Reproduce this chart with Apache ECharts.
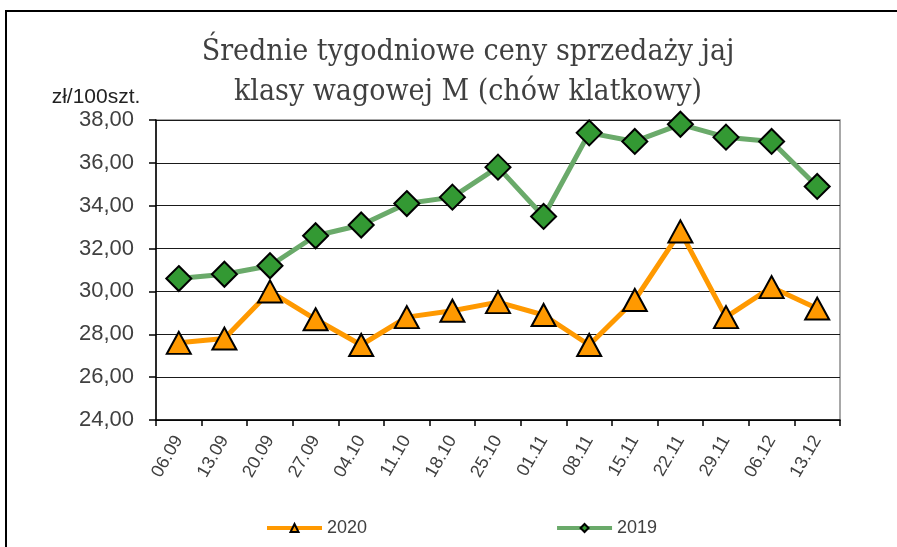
<!DOCTYPE html>
<html>
<head>
<meta charset="utf-8">
<script src="https://cdn.jsdelivr.net/npm/echarts@6/dist/echarts.min.js"></script>
<style>
html,body{margin:0;padding:0;background:#fff;}
#main{width:897px;height:547px;}
</style>
</head>
<body>
<div id="main"></div>
<script>
const categories = ['06.09','13.09','20.09','27.09','04.10','11.10','18.10','25.10','01.11','08.11','15.11','22.11','29.11','06.12','13.12'];
const values2020 = [27.6, 27.8, 30.0, 28.7, 27.5, 28.8, 29.1, 29.5, 28.9, 27.5, 29.6, 32.8, 28.8, 30.2, 29.2];
const values2019 = [30.6, 30.8, 31.2, 32.6, 33.1, 34.1, 34.4, 35.8, 33.5, 37.4, 37.0, 37.8, 37.2, 37.0, 34.9];
const seriesNames = ['2020', '2019'];
const titleLines = ['Średnie tygodniowe ceny sprzedaży jaj', 'klasy wagowej M (chów klatkowy)'];
const unitLabel = 'zł/100szt.';

const chart = echarts.init(document.getElementById('main'), null, {renderer: 'canvas'});
const option = {
  animation: false,
  backgroundColor: '#fff',
  graphic: [
    {type: 'rect', shape: {x: 6, y: 11, width: 1000, height: 1000}, style: {fill: 'none', stroke: '#000', lineWidth: 2}, silent: true, z: -10},
    {type: 'text', style: {text: titleLines.join('\n'), x: 468, y: 32, align: 'center', verticalAlign: 'top', textAlign: 'center', textVerticalAlign: 'top', font: '30px "DejaVu Serif Condensed", "DejaVu Serif", serif', fill: '#404040', lineHeight: 40}},
    {type: 'text', style: {text: unitLabel, x: 96, y: 97, align: 'center', verticalAlign: 'middle', textAlign: 'center', textVerticalAlign: 'middle', font: '21px "Liberation Sans", Arial, sans-serif', fill: '#222'}}
  ],
  legend: {
    data: seriesNames,
    left: 260,
    top: 514,
    itemWidth: 55,
    itemHeight: 10,
    itemGap: 188,
    lineStyle: {width: 4},
    textStyle: {fontFamily: '"Liberation Sans", Arial, sans-serif', fontSize: 18, color: '#404040'}
  },
  grid: {left: 156, right: 57, top: 120, bottom: 127, show: true, borderColor: '#8c8c8c', borderWidth: 1.5},
  xAxis: {
    type: 'category',
    data: categories,
    boundaryGap: true,
    axisLine: {lineStyle: {color: '#000', width: 1.5}},
    axisTick: {show: true, length: 6, lineStyle: {color: '#000', width: 1.5}},
    axisLabel: {rotate: 60, margin: 17, color: '#404040', fontSize: 18, fontFamily: '"Liberation Sans", Arial, sans-serif', interval: 0}
  },
  yAxis: {
    type: 'value',
    min: 24, max: 38, interval: 2,
    axisLine: {show: true, lineStyle: {color: '#000', width: 1.5}},
    axisTick: {show: true, length: 7, lineStyle: {color: '#000', width: 1.5}},
    splitLine: {lineStyle: {color: '#1a1a1a', width: 1.2}},
    axisLabel: {margin: 22, color: '#404040', fontSize: 22, fontFamily: '"Liberation Sans", Arial, sans-serif',
      formatter: v => v.toFixed(2).replace('.', ',')}
  },
  series: [
    {
      name: seriesNames[0], type: 'line', data: values2020,
      symbol: 'triangle', symbolSize: [24, 22],
      lineStyle: {color: '#FF9900', width: 5},
      itemStyle: {color: '#FF9900', borderColor: '#000', borderWidth: 2},
      z: 3
    },
    {
      name: seriesNames[1], type: 'line', data: values2019,
      symbol: 'diamond', symbolSize: [25, 25],
      lineStyle: {color: '#6aaa6a', width: 5},
      itemStyle: {color: '#339933', borderColor: '#000', borderWidth: 2},
      z: 2
    }
  ]
};
chart.setOption(option);
</script>
</body>
</html>
